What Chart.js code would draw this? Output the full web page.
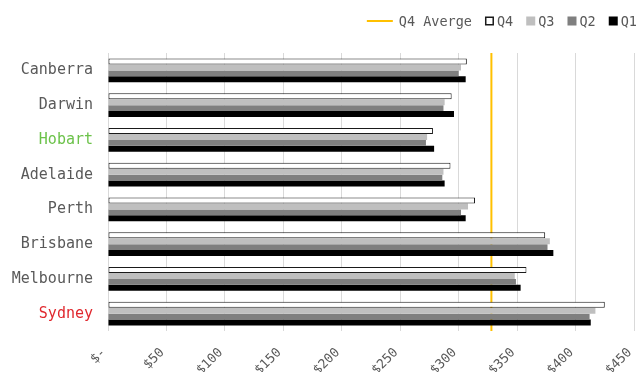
<!doctype html>
<html>
<head>
<meta charset="utf-8">
<title>Quarterly prices by city</title>
<script src="https://cdn.jsdelivr.net/npm/chart.js@4"></script>
<style>
  html, body { margin: 0; padding: 0; background: #fff; }
</style>
</head>
<body>
<canvas id="chart" width="638" height="372"></canvas>
<script>
const cities = ['Canberra', 'Darwin', 'Hobart', 'Adelaide', 'Perth', 'Brisbane', 'Melbourne', 'Sydney'];
const q4 = [307, 294, 278, 293, 314, 374, 358, 425];
const q3 = [302, 288, 273, 287, 308, 378, 348, 417];
const q2 = [300, 287, 272, 286, 302, 376, 349, 412];
const q1 = [306, 296, 279, 288, 306, 381, 353, 413];
const q4Average = 328;
const xTicks = [0, 50, 100, 150, 200, 250, 300, 350, 400, 450];
const cityColors = { Hobart: '#6cc24a', Sydney: '#e0282e' };

const mono = "'DejaVu Sans Mono', monospace";
const textGray = '#595959';

// legend across the top right: a line sample for the average, squares for the quarters
const topLegend = {
  id: 'topLegend',
  afterDraw(chart) {
    const ctx = chart.ctx;
    ctx.save();
    ctx.font = '13.5px ' + mono;
    ctx.textBaseline = 'middle';
    const items = chart.data.datasets.map((ds) => {
      const isLine = ds.type === 'line';
      const mark = isLine ? 26 : 9;
      const gap = isLine ? 6 : 3;
      return { ds, isLine, mark, gap, width: mark + gap + ctx.measureText(ds.label).width };
    });
    const spacing = 13;
    const total = items.reduce((sum, it) => sum + it.width, 0) + spacing * (items.length - 1);
    let x = chart.width - 1 - total;
    const y = 21;
    for (const it of items) {
      if (it.isLine) {
        ctx.strokeStyle = it.ds.borderColor;
        ctx.lineWidth = 2;
        ctx.beginPath();
        ctx.moveTo(x, y);
        ctx.lineTo(x + it.mark, y);
        ctx.stroke();
      } else {
        ctx.fillStyle = it.ds.backgroundColor;
        ctx.fillRect(x, y - 4.5, 9, 9);
        if (it.ds.borderWidth) {
          ctx.strokeStyle = it.ds.borderColor;
          ctx.lineWidth = 1.5;
          ctx.strokeRect(x + 0.75, y - 3.75, 7.5, 7.5);
        }
      }
      ctx.fillStyle = textGray;
      ctx.fillText(it.ds.label, x + it.mark + it.gap, y + 1);
      x += it.width + spacing;
    }
    ctx.restore();
  },
};

// horizontal bars are set per dataset, so the average line on its own
// hidden y2 scale does not get counted as a second bar axis
const barStyle = { indexAxis: 'y', categoryPercentage: 0.69, barPercentage: 1, order: 0 };

new Chart(document.getElementById('chart'), {
  type: 'bar',
  plugins: [topLegend],
  data: {
    labels: cities,
    datasets: [
      {
        type: 'line',
        indexAxis: 'y',
        label: 'Q4 Averge',
        data: [{ x: q4Average, y: 0 }, { x: q4Average, y: 1 }],
        yAxisID: 'y2',
        borderColor: '#ffc000',
        borderWidth: 2,
        pointRadius: 0,
        order: 1,
      },
      { ...barStyle, label: 'Q4', data: q4, backgroundColor: '#ffffff', borderColor: '#1a1a1a', borderWidth: 1, borderSkipped: false },
      { ...barStyle, label: 'Q3', data: q3, backgroundColor: '#bfbfbf', borderWidth: 0 },
      { ...barStyle, label: 'Q2', data: q2, backgroundColor: '#7f7f7f', borderWidth: 0 },
      { ...barStyle, label: 'Q1', data: q1, backgroundColor: '#000000', borderWidth: 0 },
    ],
  },
  options: {
    responsive: false,
    animation: false,
    layout: { padding: { top: 53, left: 12, right: 4, bottom: 0 } },
    plugins: { legend: { display: false }, tooltip: { enabled: false } },
    scales: {
      x: {
        type: 'linear',
        position: 'bottom',
        offset: false,
        min: 0,
        max: 450,
        afterBuildTicks: (scale) => { scale.ticks = xTicks.map((value) => ({ value })); },
        afterFit: (scale) => {
          scale.height = 41;
          scale.paddingLeft = 0;
          scale.paddingRight = 0;
        },
        grid: { color: '#d9d9d9', drawTicks: false, offset: false },
        border: { display: false },
        ticks: {
          autoSkip: false,
          minRotation: 45,
          maxRotation: 45,
          padding: 14,
          labelOffset: -4,
          color: textGray,
          font: { family: mono, size: 13 },
          callback: (value) => (value === 0 ? '$-' : '$' + value),
        },
      },
      y: {
        type: 'category',
        position: 'left',
        offset: true,
        afterFit: (scale) => { scale.width = 96; },
        grid: { display: false, drawTicks: false },
        border: { display: false },
        ticks: {
          padding: 15,
          font: { family: mono, size: 15 },
          color: (ctx) => cityColors[cities[ctx.index]] || textGray,
        },
      },
      y2: { type: 'linear', display: false, offset: false, min: 0, max: 1 },
    },
  },
});
</script>
</body>
</html>
